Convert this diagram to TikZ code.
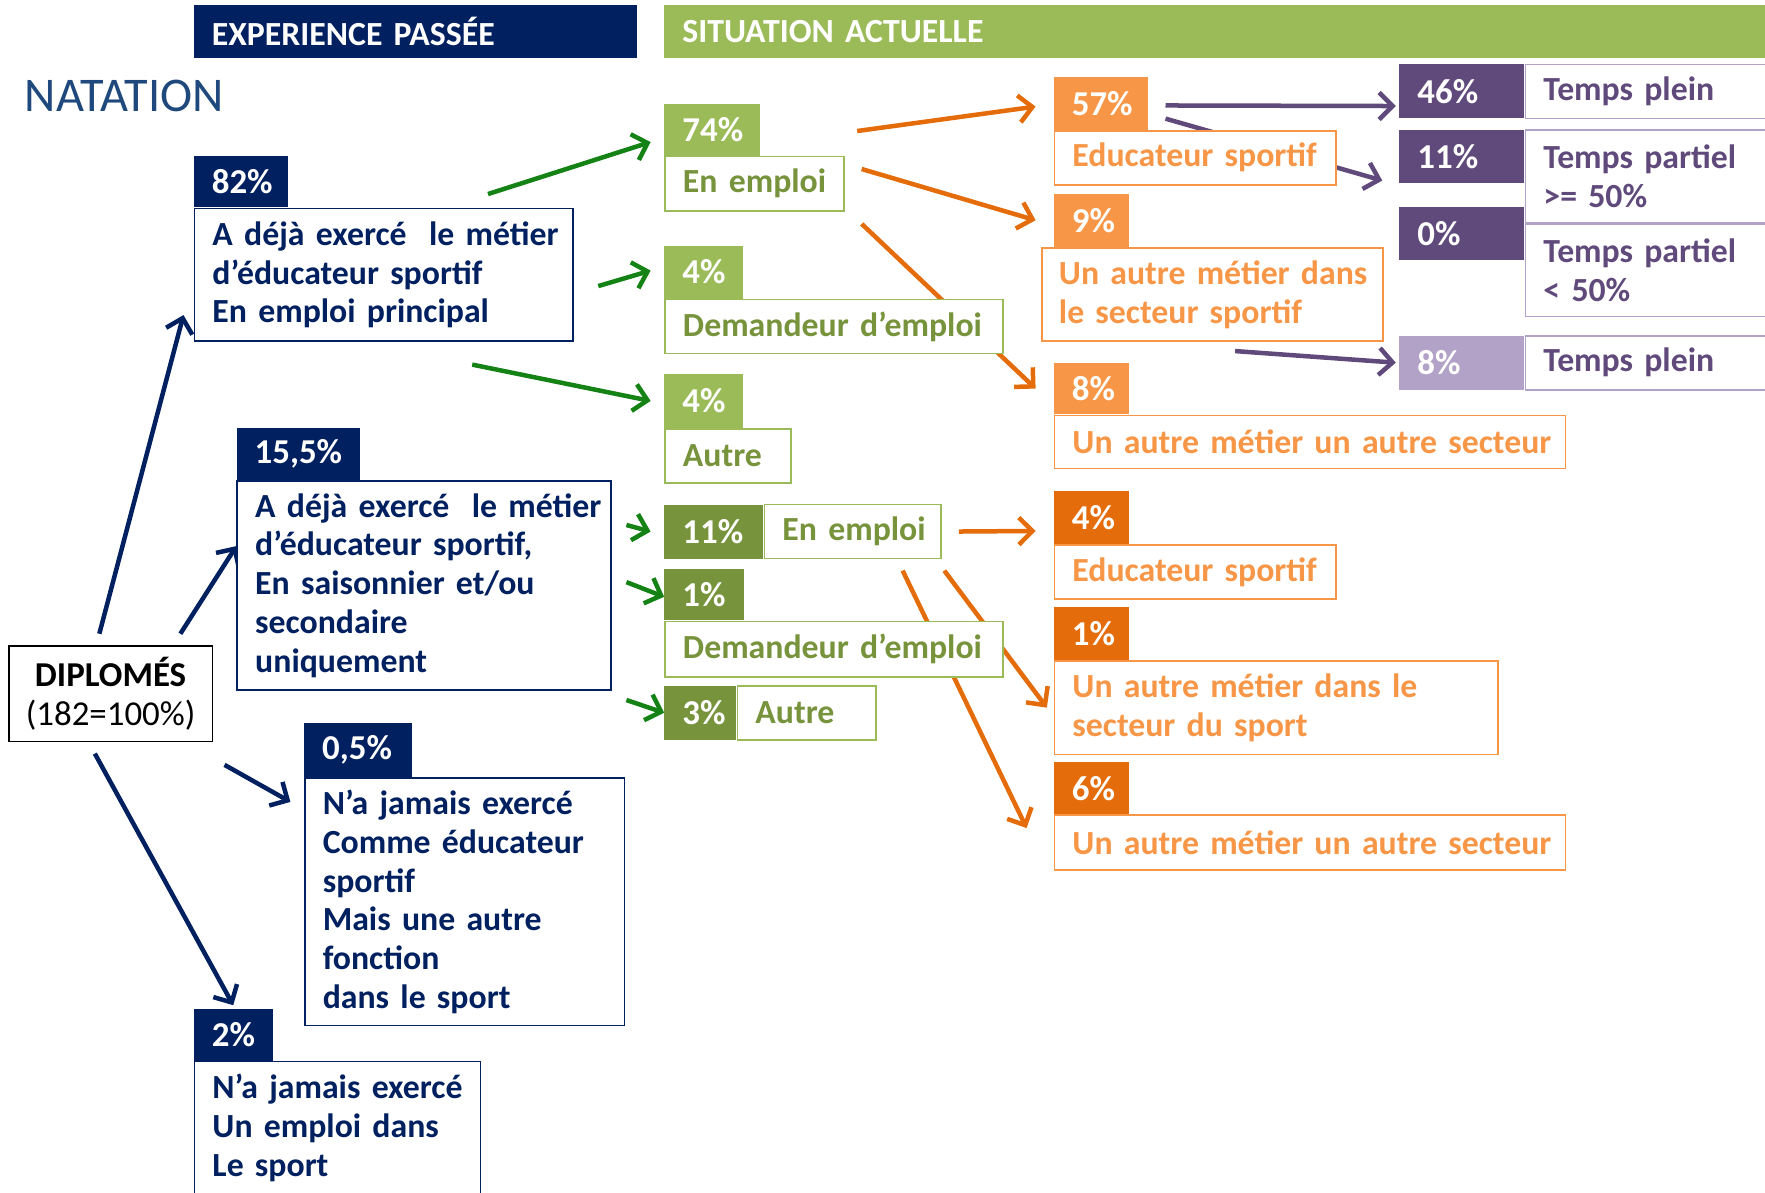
\documentclass[tikz,border=0pt]{standalone}
\usepackage{fontspec}
\setmainfont{Carlito}[WordSpace=0.7]
\usetikzlibrary{positioning,arrows.meta,backgrounds}
\hfuzz=20pt
\definecolor{navy}{RGB}{0,32,96}
\definecolor{natblue}{RGB}{31,73,125}
\definecolor{olive}{RGB}{155,187,89}
\definecolor{darkolive}{RGB}{119,147,60}
\definecolor{arrgreen}{RGB}{20,130,20}
\definecolor{lorange}{RGB}{247,150,70}
\definecolor{dorange}{RGB}{228,108,10}
\definecolor{dpurple}{RGB}{96,74,123}
\definecolor{lpurple}{RGB}{179,162,199}
\newcommand\hdrfont{\fontsize{30}{36}\selectfont\bfseries}
\newcommand\pctfont{\fontsize{31}{36}\selectfont\bfseries}
\newcommand\txtfont{\fontsize{30}{34.5}\selectfont\bfseries}
\begin{document}
\begin{tikzpicture}[x=1pt, y=-1pt,
  every node/.style={anchor=north west, inner xsep=16pt, inner ysep=0pt, align=left,
    execute at begin node={\hyphenpenalty=10000\exhyphenpenalty=10000}},
  lbl/.style={fill=#1, text=white, font=\pctfont},
  box/.style 2 args={draw=#1, text=#2, fill=white, line width=1.5pt, font=\txtfont},
  arr/.style={draw=#1, line width=4pt, -{Straight Barb[length=12pt,width=24pt]}}]
  \clip (0,0) rectangle (1568,1059);
  \node[lbl=navy, font=\hdrfont, minimum height=47pt, text width=362pt] (hpast) at (172,4) {EXPERIENCE PASSÉE};
  \node[lbl=olive, font=\hdrfont, minimum height=47pt, text width=946pt] (hnow) at (590,4) {SITUATION ACTUELLE};
  \node[anchor=west, inner xsep=0pt, text=natblue, font=\fontsize{43}{46}\selectfont] (nat) at (22,85) {NATATION};

  \node[draw=black, line width=1.5pt, align=center, inner xsep=4pt, text width=173pt, minimum height=85pt,
    font=\fontsize{31}{35}\selectfont] (dip) at (7,573) {\textbf{DIPLOMÉS}\\(182=100\%)};

  \node[lbl=navy, text width=52pt, minimum height=46pt] (p82) at (172,138) {82\%};
  \node[box={navy}{navy}, text width=304pt, minimum height=118pt] (p82box) at (p82.south west)
    {A~déjà~exercé~~le~métier\\d’éducateur sportif\\En emploi principal};
  \node[lbl=navy, text width=78pt, minimum height=46pt] (p155) at (210,380) {15,5\%};
  \node[box={navy}{navy}, text width=300pt, minimum height=186pt] (p155box) at (p155.south west)
    {A~déjà~exercé~~le~métier\\d’éducateur sportif,\\En saisonnier et/ou\\secondaire\\uniquement};
  \node[lbl=navy, text width=64pt, minimum height=48pt] (p05) at (270,642) {0,5\%};
  \node[box={navy}{navy}, text width=252pt, minimum height=220pt] (p05box) at (p05.south west)
    {N’a~jamais~exercé\\Comme~éducateur\\sportif\\Mais une autre\\fonction\\dans le sport};
  \node[lbl=navy, text width=38pt, minimum height=46pt] (p2) at (172,896) {2\%};
  \node[box={navy}{navy}, text width=222pt, minimum height=118pt] (p2box) at (p2.south west)
    {N’a~jamais~exercé\\Un emploi dans\\Le sport};

  \node[lbl=olive, text width=53pt, minimum height=46pt] (g74) at (590,92) {74\%};
  \node[box={olive}{darkolive}, text width=127pt, minimum height=48pt] (g74box) at (g74.south west) {En~emploi};
  \node[lbl=olive, text width=38pt, minimum height=47pt] (g4a) at (590,218) {4\%};
  \node[box={olive}{darkolive}, text width=268pt, minimum height=48pt] (g4abox) at (g4a.south west) {Demandeur~d’emploi};
  \node[lbl=olive, text width=38pt, minimum height=48pt] (g4b) at (590,332) {4\%};
  \node[box={olive}{darkolive}, text width=80pt, minimum height=48pt] (g4bbox) at (g4b.south west) {Autre};
  \node[lbl=darkolive, text width=56pt, minimum height=48pt] (g11) at (590,448) {11\%};
  \node[box={olive}{darkolive}, text width=125pt, minimum height=48pt, right=0pt of g11] (g11box) {En~emploi};
  \node[lbl=darkolive, text width=39pt, minimum height=46pt] (g1) at (590,505) {1\%};
  \node[box={olive}{darkolive}, text width=268pt, minimum height=49pt] (g1box) at (g1.south west) {Demandeur~d’emploi};
  \node[lbl=darkolive, text width=32pt, minimum height=48pt] (g3) at (590,609) {3\%};
  \node[box={olive}{darkolive}, text width=91pt, minimum height=48pt, right=0pt of g3] (g3box) {Autre};

  \node[lbl=lorange, text width=52pt, minimum height=47pt] (o57) at (936,68) {57\%};
  \node[box={lorange}{lorange}, text width=218pt, minimum height=48pt] (o57box) at (o57.south west) {Educateur~sportif};
  \node[lbl=lorange, text width=35pt, minimum height=47pt] (o9) at (936,172) {9\%};
  \node[box={lorange}{lorange}, text width=273pt, minimum height=83pt, inner xsep=15pt] (o9box) at ([xshift=-11pt]o9.south west)
    {Un~autre~métier~dans\\le secteur sportif};
  \node[lbl=lorange, text width=35pt, minimum height=46pt] (o8) at (936,322) {8\%};
  \node[box={lorange}{lorange}, text width=422pt, minimum height=47pt] (o8box) at (o8.south west) {Un~autre~métier~un~autre~secteur};

  \node[lbl=dorange, text width=35pt, minimum height=47pt] (o4) at (936,436) {4\%};
  \node[box={lorange}{lorange}, text width=218pt, minimum height=48pt] (o4box) at (o4.south west) {Educateur~sportif};
  \node[lbl=dorange, text width=35pt, minimum height=47pt] (o1) at (936,539) {1\%};
  \node[box={lorange}{lorange}, text width=362pt, minimum height=83pt] (o1box) at (o1.south west)
    {Un~autre~métier~dans~le\\secteur du sport};
  \node[lbl=dorange, text width=35pt, minimum height=46pt] (o6) at (936,677) {6\%};
  \node[box={lorange}{lorange}, text width=422pt, minimum height=49pt] (o6box) at (o6.south west) {Un~autre~métier~un~autre~secteur};

  \node[lbl=dpurple, text width=79pt, minimum height=48pt] (u46) at (1243,57) {46\%};
  \node[box={lpurple}{dpurple}, text width=218pt, minimum height=48pt, right=0pt of u46] (u46box) {Temps plein};
  \node[lbl=dpurple, text width=79pt, minimum height=47pt] (u11) at (1243,115) {11\%};
  \node[box={lpurple}{dpurple}, text width=218pt, minimum height=82pt] (u11box) at (u11.north east) {Temps~partiel\\>=~50\%};
  \node[lbl=dpurple, text width=79pt, minimum height=47pt] (u0) at (1243,184) {0\%};
  \node[box={lpurple}{dpurple}, text width=218pt, minimum height=82pt, below=0pt of u11box] (u0box) {Temps~partiel\\<~50\%};
  \node[lbl=lpurple, text width=79pt, minimum height=48pt] (u8) at (1243,298) {8\%};
  \node[box={lpurple}{dpurple}, text width=218pt, minimum height=48pt, right=0pt of u8] (u8box) {Temps plein};

  \begin{scope}[on background layer]
    \draw[arr=navy] ([shift={(-10,-10)}]dip.north) -- ([shift={(-9,-24)}]p82box.south west);
    \draw[arr=navy] ([shift={(62,-10)}]dip.north) -- ([shift={(0,-35)}]p155box.west);
    \draw[arr=navy] ([shift={(10,20)}]dip.south east) -- ([shift={(-12,22)}]p05box.north west);
    \draw[arr=navy] ([shift={(-14,10)}]dip.south) -- ([shift={(0,-3)}]p2.north);

    \draw[arr=arrgreen] ([shift={(-76,-12)}]p82box.north east) -- ([shift={(-12,11)}]g74.west);
    \draw[arr=arrgreen] ([shift={(22,10)}]p82box.east) -- ([shift={(-12,-25)}]g4a.south west);
    \draw[arr=arrgreen] ([shift={(-90,20)}]p82box.south east) -- ([shift={(-12,0)}]g4b.west);
    \draw[arr=arrgreen] ([shift={(13,40)}]p155box.north east) -- ([shift={(-12,0)}]g11.west);
    \draw[arr=arrgreen] ([shift={(13,-3)}]p155box.east) -- ([shift={(0,2)}]g1.west);
    \draw[arr=arrgreen] ([shift={(13,8)}]p155box.south east) -- (g3.west);

    \draw[arr=dorange] ([shift={(11,-22)}]g74box.north east) -- ([shift={(-16,3)}]o57.west);
    \draw[arr=dorange] ([shift={(15,-13)}]g74box.east) -- ([shift={(-16,0)}]o9.west);
    \draw[arr=dorange] ([shift={(15,11)}]g74box.south east) -- ([shift={(-16,0)}]o8.west);
    \draw[arr=dorange] ([shift={(15,0)}]g11box.east) -- ([shift={(-16,12)}]o4.west);
    \draw[arr=dorange] ([shift={(2,10)}]g11box.south east) -- ([shift={(-6,0)}]o1box.west);
    \draw[arr=dorange] ([shift={(-35,10)}]g11box.south east) -- ([shift={(-24,-13)}]o6box.west);

    \draw[arr=dpurple] ([shift={(15,2)}]o57.east) -- ([shift={(-3,13)}]u46.west);
    \draw[arr=dpurple] ([shift={(15,-10)}]o57.south east) -- ([shift={(-15,-2)}]u11.south west);
    \draw[arr=dpurple] ([shift={(20,8)}]o9box.south) -- ([shift={(-3,0)}]u8.west);
  \end{scope}
\end{tikzpicture}
\end{document}
